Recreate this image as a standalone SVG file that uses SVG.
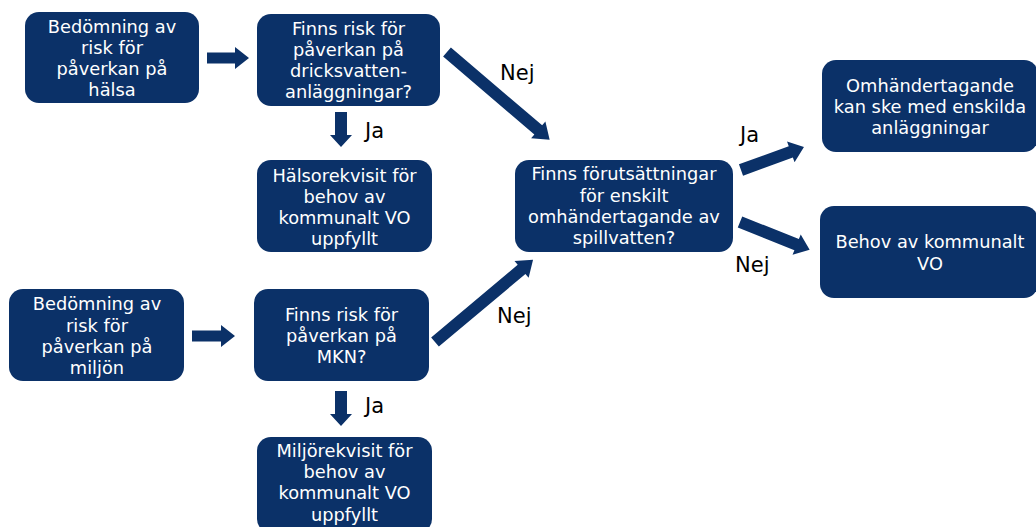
<svg xmlns="http://www.w3.org/2000/svg" width="1036" height="527" viewBox="0 0 1036 527">
<style>
.box{fill:#0b3168;}
.t{font-family:"DejaVu Sans",Verdana,sans-serif;font-size:17.8px;fill:#ffffff;text-anchor:middle;}
.lbl{font-family:"DejaVu Sans",Verdana,sans-serif;font-size:21px;fill:#000000;}
.arr{fill:#0b3168;}
</style>
<rect width="1036" height="527" fill="#ffffff"/>
<g id="n1"><rect class="box" x="25" y="12" width="174" height="91" rx="14"/>
<text class="t"><tspan x="112" y="33">Bedömning av</tspan><tspan x="112" y="54">risk för</tspan><tspan x="112" y="75">påverkan på</tspan><tspan x="112" y="96">hälsa</tspan></text></g>
<g id="n2"><rect class="box" x="257" y="14" width="183" height="92" rx="14"/>
<text class="t"><tspan x="348.5" y="35">Finns risk för</tspan><tspan x="348.5" y="56">påverkan på</tspan><tspan x="348.5" y="77">dricksvatten-</tspan><tspan x="348.5" y="98">anläggningar?</tspan></text></g>
<g id="n3"><rect class="box" x="257" y="160" width="175" height="92" rx="14"/>
<text class="t"><tspan x="344.5" y="182">Hälsorekvisit för</tspan><tspan x="344.5" y="203">behov av</tspan><tspan x="344.5" y="224">kommunalt VO</tspan><tspan x="344.5" y="245">uppfyllt</tspan></text></g>
<g id="n4"><rect class="box" x="515" y="160" width="218" height="92" rx="14"/>
<text class="t"><tspan x="624" y="180">Finns förutsättningar</tspan><tspan x="624" y="202">för enskilt</tspan><tspan x="624" y="223">omhändertagande av</tspan><tspan x="624" y="244">spillvatten?</tspan></text></g>
<g id="n5"><rect class="box" x="822" y="60" width="216" height="92" rx="14"/>
<text class="t"><tspan x="930" y="92">Omhändertagande</tspan><tspan x="930" y="113">kan ske med enskilda</tspan><tspan x="930" y="134">anläggningar</tspan></text></g>
<g id="n6"><rect class="box" x="820" y="206" width="218" height="92" rx="14"/>
<text class="t"><tspan x="930" y="248">Behov av kommunalt</tspan><tspan x="930" y="270">VO</tspan></text></g>
<g id="n7"><rect class="box" x="9" y="289" width="175" height="92" rx="14"/>
<text class="t"><tspan x="97" y="310">Bedömning av</tspan><tspan x="97" y="332">risk för</tspan><tspan x="97" y="353">påverkan på</tspan><tspan x="97" y="374">miljön</tspan></text></g>
<g id="n8"><rect class="box" x="254" y="289" width="175" height="92" rx="14"/>
<text class="t"><tspan x="341.5" y="321">Finns risk för</tspan><tspan x="341.5" y="342">påverkan på</tspan><tspan x="341.5" y="363">MKN?</tspan></text></g>
<g id="n9"><rect class="box" x="257" y="437" width="175" height="96" rx="14"/>
<text class="t"><tspan x="344.5" y="457">Miljörekvisit för</tspan><tspan x="344.5" y="478">behov av</tspan><tspan x="344.5" y="499">kommunalt VO</tspan><tspan x="344.5" y="521">uppfyllt</tspan></text></g>
<g id="connectors">
<path class="arr" transform="translate(207,58)" d="M0,-5.5 H28 V-11 L42,0 L28,11 V5.5 H0 Z"/>
<path class="arr" transform="translate(341,112) rotate(90)" d="M0,-6 H23 V-11 L35,0 L23,11 V6 H0 Z"/>
<path class="arr" transform="translate(192,336)" d="M0,-5.5 H29 V-11 L43,0 L29,11 V5.5 H0 Z"/>
<path class="arr" transform="translate(341,391) rotate(90)" d="M0,-6 H23 V-11 L35,0 L23,11 V6 H0 Z"/>
<path class="arr" transform="translate(447,52) rotate(40.5)" d="M0,-6 H120 V-11 L135,0 L120,11 V6 H0 Z"/>
<path class="arr" transform="translate(435,342) rotate(-40)" d="M0,-6 H113 V-11 L128,0 L113,11 V6 H0 Z"/>
<path class="arr" transform="translate(741,170) rotate(-20)" d="M0,-6 H53 V-11 L67,0 L53,11 V6 H0 Z"/>
<path class="arr" transform="translate(740,222) rotate(21.8)" d="M0,-6 H61 V-11 L75,0 L61,11 V6 H0 Z"/>
<text class="lbl" x="365" y="138">Ja</text>
<text class="lbl" x="365" y="413">Ja</text>
<text class="lbl" x="500" y="80">Nej</text>
<text class="lbl" x="497" y="323">Nej</text>
<text class="lbl" x="740" y="142">Ja</text>
<text class="lbl" x="735" y="272">Nej</text>
</g>
</svg>
